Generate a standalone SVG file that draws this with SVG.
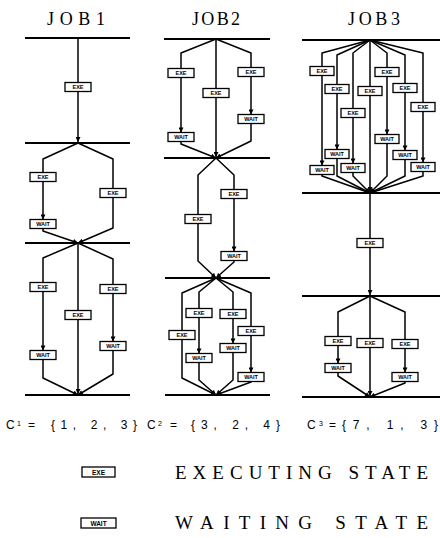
<svg xmlns="http://www.w3.org/2000/svg" width="440" height="538" viewBox="0 0 440 538">
<style>
.bg{fill:#fff}
.bar{stroke:#000;stroke-width:2;fill:none}
.c{fill:none;stroke:#000;stroke-width:1.5;stroke-linejoin:round}
.a{marker-end:url(#ah)}
.bx{fill:#fff;stroke:#000;stroke-width:1.3}
.bt{font-family:"Liberation Sans",Arial,sans-serif;font-size:5.5px;font-weight:bold;text-anchor:middle}
.lt{font-family:"Liberation Sans",Arial,sans-serif;font-size:6.5px;font-weight:bold;text-anchor:middle}
.title{font-family:"Liberation Serif","Times New Roman",serif;font-size:18px}
.big{font-family:"Liberation Serif","Times New Roman",serif;font-size:19px}
.ct{font-family:"Liberation Sans",Arial,sans-serif;font-size:12px}
.sub{font-family:"Liberation Sans",Arial,sans-serif;font-size:7px}
</style>
<defs>
<marker id="ah" viewBox="0 0 10 10" refX="10" refY="5" markerWidth="6" markerHeight="5" markerUnits="userSpaceOnUse" orient="auto">
<path d="M0,0 L10,5 L0,10 z" fill="#000"/>
</marker>
</defs>
<rect class="bg" x="0" y="0" width="440" height="538"/>

<g id="titles">
<text class="title" x="47" y="25" textLength="58" lengthAdjust="spacing">JOB1</text>
<text class="title" x="192" y="25" textLength="48" lengthAdjust="spacing">JOB2</text>
<text class="title" x="348" y="25" textLength="52" lengthAdjust="spacing">JOB3</text>
</g>

<g id="bars">
<line class="bar" x1="25" y1="38" x2="130" y2="38"/>
<line class="bar" x1="25" y1="143" x2="130" y2="143"/>
<line class="bar" x1="25" y1="243" x2="130" y2="243"/>
<line class="bar" x1="25" y1="395" x2="130" y2="395"/>
<line class="bar" x1="164" y1="39" x2="270" y2="39"/>
<line class="bar" x1="164" y1="158" x2="270" y2="158"/>
<line class="bar" x1="165" y1="278" x2="270" y2="278"/>
<line class="bar" x1="165" y1="395" x2="270" y2="395"/>
<line class="bar" x1="302" y1="40" x2="440" y2="40"/>
<line class="bar" x1="302" y1="193" x2="440" y2="193"/>
<line class="bar" x1="302" y1="296" x2="440" y2="296"/>
<line class="bar" x1="302" y1="397" x2="440" y2="397"/>
</g>

<g id="connectors">
<!-- JOB1 -->
<path class="c a" d="M78,38 V142"/>
<path class="c a" d="M78,143 L43,159 V219.5"/>
<path class="c a" d="M43,228.5 V231 L78,243"/>
<path class="c a" d="M78,143 L113,159 V228 L78,243"/>
<path class="c a" d="M78,243 L43,258 V350.5"/>
<path class="c a" d="M43,359.5 V378 L78,395"/>
<path class="c a" d="M78,243 V394"/>
<path class="c a" d="M78,243 L113,259 V341.5"/>
<path class="c a" d="M113,350.5 V374 L78,395"/>
<!-- JOB2 -->
<path class="c a" d="M216,39 L181,53 V132.5"/>
<path class="c a" d="M181,141.5 V144 L216,158"/>
<path class="c a" d="M216,39 V157"/>
<path class="c a" d="M216,39 L251,53 V114.5"/>
<path class="c a" d="M251,123.5 V141 L216,158"/>
<path class="c a" d="M216,158 L198,175 V261 L216,278"/>
<path class="c a" d="M216,158 L234,175 V251.5"/>
<path class="c a" d="M234,260.5 V262 L216,278"/>
<path class="c a" d="M216,278 L182,293 V378 L216,395"/>
<path class="c a" d="M216,278 L199,292 V353.5"/>
<path class="c a" d="M199,362.5 V380 L216,395"/>
<path class="c a" d="M216,278 L233,292 V343.5"/>
<path class="c a" d="M233,352.5 V380 L216,395"/>
<path class="c a" d="M216,278 L251,293 V372.5"/>
<path class="c a" d="M251,381.5 V382 L216,395"/>
<!-- JOB3 -->
<path class="c a" d="M370,40 L322,53 V165.5"/>
<path class="c a" d="M322,174.5 V176 L370,193"/>
<path class="c a" d="M370,40 L337,55 V149.5"/>
<path class="c a" d="M337,158.5 V176 L370,193"/>
<path class="c a" d="M370,40 L353,53 V163.5"/>
<path class="c a" d="M353,172.5 V176 L370,193"/>
<path class="c a" d="M370,40 V192"/>
<path class="c a" d="M370,40 L387,53 V134.5"/>
<path class="c a" d="M387,143.5 V176 L370,193"/>
<path class="c a" d="M370,40 L405,55 V150.5"/>
<path class="c a" d="M405,159.5 V176 L370,193"/>
<path class="c a" d="M370,40 L423,53 V162.5"/>
<path class="c a" d="M423,171.5 V176 L370,193"/>
<path class="c a" d="M370,193 V295"/>
<path class="c a" d="M370,296 L338,312 V363.5"/>
<path class="c a" d="M338,372.5 V376 L370,397"/>
<path class="c a" d="M370,296 V396"/>
<path class="c a" d="M370,296 L405,312 V372.5"/>
<path class="c a" d="M405,381.5 V383 L370,397"/>
</g>

<!-- JOB1 nodes -->
<g id="j1s1e"><rect class="bx" x="65" y="82.5" width="26" height="9"/><text class="bt" x="78" y="89">EXE</text></g>
<g id="j1s2e1"><rect class="bx" x="30" y="172.5" width="26" height="9"/><text class="bt" x="43" y="179">EXE</text></g>
<g id="j1s2w1"><rect class="bx" x="30" y="219.5" width="26" height="9"/><text class="bt" x="43" y="226">WAIT</text></g>
<g id="j1s2e2"><rect class="bx" x="100" y="188.5" width="26" height="9"/><text class="bt" x="113" y="195">EXE</text></g>
<g id="j1s3e1"><rect class="bx" x="30" y="282.5" width="26" height="9"/><text class="bt" x="43" y="289">EXE</text></g>
<g id="j1s3w1"><rect class="bx" x="30" y="350.5" width="26" height="9"/><text class="bt" x="43" y="357">WAIT</text></g>
<g id="j1s3e2"><rect class="bx" x="65" y="310.5" width="26" height="9"/><text class="bt" x="78" y="317">EXE</text></g>
<g id="j1s3e3"><rect class="bx" x="100" y="284.5" width="26" height="9"/><text class="bt" x="113" y="291">EXE</text></g>
<g id="j1s3w3"><rect class="bx" x="100" y="341.5" width="26" height="9"/><text class="bt" x="113" y="348">WAIT</text></g>

<!-- JOB2 nodes -->
<g id="j2s1e1"><rect class="bx" x="168" y="68.5" width="26" height="9"/><text class="bt" x="181" y="75">EXE</text></g>
<g id="j2s1w1"><rect class="bx" x="168" y="132.5" width="26" height="9"/><text class="bt" x="181" y="139">WAIT</text></g>
<g id="j2s1e2"><rect class="bx" x="203" y="88.5" width="26" height="9"/><text class="bt" x="216" y="95">EXE</text></g>
<g id="j2s1e3"><rect class="bx" x="238" y="67.5" width="26" height="9"/><text class="bt" x="251" y="74">EXE</text></g>
<g id="j2s1w3"><rect class="bx" x="238" y="114.5" width="26" height="9"/><text class="bt" x="251" y="121">WAIT</text></g>
<g id="j2s2e1"><rect class="bx" x="185" y="214.5" width="26" height="9"/><text class="bt" x="198" y="221">EXE</text></g>
<g id="j2s2e2"><rect class="bx" x="221" y="189.5" width="26" height="9"/><text class="bt" x="234" y="196">EXE</text></g>
<g id="j2s2w2"><rect class="bx" x="221" y="251.5" width="26" height="9"/><text class="bt" x="234" y="258">WAIT</text></g>
<g id="j2s3e1"><rect class="bx" x="169" y="330.5" width="26" height="9"/><text class="bt" x="182" y="337">EXE</text></g>
<g id="j2s3e2"><rect class="bx" x="186" y="308.5" width="26" height="9"/><text class="bt" x="199" y="315">EXE</text></g>
<g id="j2s3w2"><rect class="bx" x="186" y="353.5" width="26" height="9"/><text class="bt" x="199" y="360">WAIT</text></g>
<g id="j2s3e3"><rect class="bx" x="220" y="309.5" width="26" height="9"/><text class="bt" x="233" y="316">EXE</text></g>
<g id="j2s3w3"><rect class="bx" x="220" y="343.5" width="26" height="9"/><text class="bt" x="233" y="350">WAIT</text></g>
<g id="j2s3e4"><rect class="bx" x="238" y="326.5" width="26" height="9"/><text class="bt" x="251" y="333">EXE</text></g>
<g id="j2s3w4"><rect class="bx" x="238" y="372.5" width="26" height="9"/><text class="bt" x="251" y="379">WAIT</text></g>

<!-- JOB3 nodes -->
<g id="j3s1e1"><rect class="bx" x="310" y="66.5" width="24" height="9"/><text class="bt" x="322" y="73">EXE</text></g>
<g id="j3s1w1"><rect class="bx" x="310" y="165.5" width="24" height="9"/><text class="bt" x="322" y="172">WAIT</text></g>
<g id="j3s1e2"><rect class="bx" x="325" y="84.5" width="24" height="9"/><text class="bt" x="337" y="91">EXE</text></g>
<g id="j3s1w2"><rect class="bx" x="325" y="149.5" width="24" height="9"/><text class="bt" x="337" y="156">WAIT</text></g>
<g id="j3s1e3"><rect class="bx" x="341" y="108.5" width="24" height="9"/><text class="bt" x="353" y="115">EXE</text></g>
<g id="j3s1w3"><rect class="bx" x="341" y="163.5" width="24" height="9"/><text class="bt" x="353" y="170">WAIT</text></g>
<g id="j3s1e4"><rect class="bx" x="358" y="86.5" width="24" height="9"/><text class="bt" x="370" y="93">EXE</text></g>
<g id="j3s1e5"><rect class="bx" x="375" y="67.5" width="24" height="9"/><text class="bt" x="387" y="74">EXE</text></g>
<g id="j3s1w5"><rect class="bx" x="375" y="134.5" width="24" height="9"/><text class="bt" x="387" y="141">WAIT</text></g>
<g id="j3s1e6"><rect class="bx" x="393" y="83.5" width="24" height="9"/><text class="bt" x="405" y="90">EXE</text></g>
<g id="j3s1w6"><rect class="bx" x="393" y="150.5" width="24" height="9"/><text class="bt" x="405" y="157">WAIT</text></g>
<g id="j3s1e7"><rect class="bx" x="411" y="102.5" width="24" height="9"/><text class="bt" x="423" y="109">EXE</text></g>
<g id="j3s1w7"><rect class="bx" x="411" y="162.5" width="24" height="9"/><text class="bt" x="423" y="169">WAIT</text></g>
<g id="j3s2e"><rect class="bx" x="357" y="238.5" width="26" height="9"/><text class="bt" x="370" y="245">EXE</text></g>
<g id="j3s3e1"><rect class="bx" x="325" y="336.5" width="26" height="9"/><text class="bt" x="338" y="343">EXE</text></g>
<g id="j3s3w1"><rect class="bx" x="325" y="363.5" width="26" height="9"/><text class="bt" x="338" y="370">WAIT</text></g>
<g id="j3s3e2"><rect class="bx" x="357" y="338.5" width="26" height="9"/><text class="bt" x="370" y="345">EXE</text></g>
<g id="j3s3e3"><rect class="bx" x="392" y="339.5" width="26" height="9"/><text class="bt" x="405" y="346">EXE</text></g>
<g id="j3s3w3"><rect class="bx" x="392" y="372.5" width="26" height="9"/><text class="bt" x="405" y="379">WAIT</text></g>

<g id="vectors">
<text class="ct" x="6" y="429">C</text><text class="sub" x="17" y="426">1</text><text class="ct" x="28" y="429">=</text>
<text class="ct" x="51" y="429" textLength="86" lengthAdjust="spacing">{1, 2, 3}</text>
<text class="ct" x="147" y="429">C</text><text class="sub" x="158" y="426">2</text><text class="ct" x="170" y="429">=</text>
<text class="ct" x="191" y="429" textLength="89" lengthAdjust="spacing">{3, 2, 4}</text>
<text class="ct" x="307" y="429">C</text><text class="sub" x="319" y="426">3</text><text class="ct" x="329" y="429">=</text>
<text class="ct" x="342" y="429" textLength="96" lengthAdjust="spacing">{7, 1, 3}</text>
</g>

<g id="legend-exe">
<rect class="bx" x="82" y="467" width="33" height="10"/><text class="lt" x="98.5" y="474.5">EXE</text>
<text class="big" x="175" y="479" textLength="253" lengthAdjust="spacing">EXECUTING STATE</text>
</g>
<g id="legend-wait">
<rect class="bx" x="81" y="518" width="35" height="10"/><text class="lt" x="98.5" y="525.5">WAIT</text>
<text class="big" x="175" y="529" textLength="253" lengthAdjust="spacing">WAITING STATE</text>
</g>
</svg>
